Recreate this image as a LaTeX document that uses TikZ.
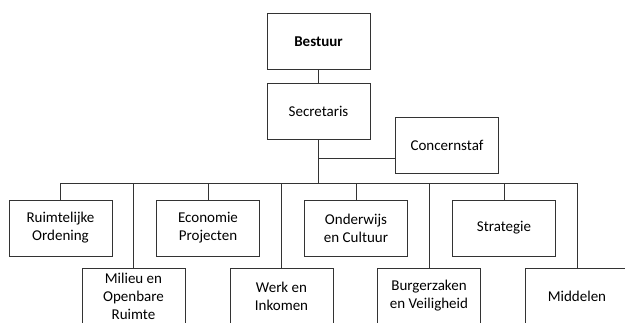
\documentclass[tikz,border=0pt]{standalone}
\usepackage{fontspec}
\setmainfont{Carlito}

\tikzset{
  unit/.style={draw=black!80, line width=0.7pt, minimum width=103pt, minimum height=56pt,
    inner sep=2pt, align=center, font=\fontsize{15}{18}\selectfont},
  link/.style={draw=black!80, line width=0.7pt}
}

\begin{document}
\begin{tikzpicture}[x=1pt, y=-1pt]
\useasboundingbox (0,0) rectangle (625,322);
\clip (0,0) rectangle (625,322);
\node[unit, font=\fontsize{15}{18}\selectfont\bfseries] (bestuur) at (318.5,41.3) {Bestuur};
\node[unit] (secretaris) at (318.5,111.3) {Secretaris};
\node[unit] (concernstaf) at (447,145) {Concernstaf};
\node[unit] (ruimtelijke) at (60.5,228) {Ruimtelijke\\Ordening};
\node[unit] (economie) at (208,228) {Economie\\Projecten};
\node[unit] (onderwijs) at (356,228) {Onderwijs\\en Cultuur};
\node[unit] (strategie) at (504,228) {Strategie};
\node[unit] (milieu) at (133.5,296) {Milieu en\\Openbare\\Ruimte};
\node[unit] (werk) at (281.5,296) {Werk en\\Inkomen};
\node[unit] (burgerzaken) at (429,296) {Burgerzaken\\en Veiligheid};
\node[unit] (middelen) at (577,296) {Middelen};
\coordinate (hub) at (318.5,183);
\coordinate (staf) at (395,158);
\draw[link] (bestuur) -- (secretaris);
\draw[link] (secretaris) -- (hub);
\draw[link] (staf) -- (staf -| secretaris);
\draw[link] (ruimtelijke.north) |- (hub -| middelen);
\foreach \n in {economie, onderwijs, strategie, milieu, werk, burgerzaken, middelen}
  \draw[link] (\n.north) -- (\n.north |- hub);
\end{tikzpicture}
\end{document}
